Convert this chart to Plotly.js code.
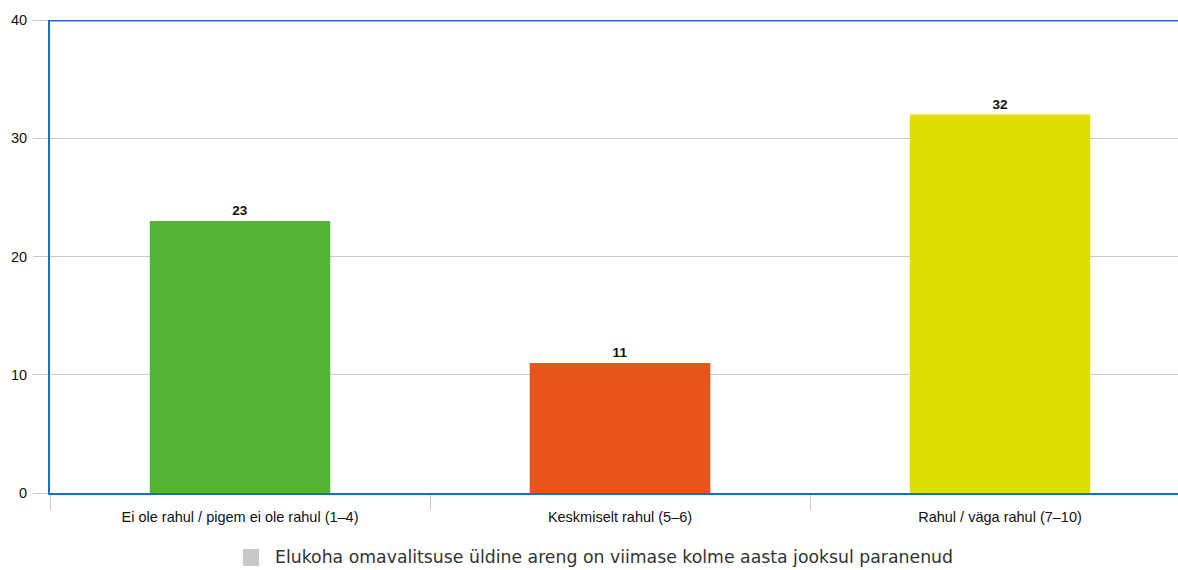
<!DOCTYPE html>
<html>
<head>
<meta charset="utf-8">
<script src="https://cdn.plot.ly/plotly-3.0.1.min.js"></script>
<style>
html,body{margin:0;padding:0;overflow:hidden;background:#fff;}
#chart{width:1200px;height:570px;}
</style>
</head>
<body>
<div id="chart"></div>
<script>
const categories = ["Ei ole rahul / pigem ei ole rahul (1\u20134)", "Keskmiselt rahul (5\u20136)", "Rahul / v\u00e4ga rahul (7\u201310)"];
const values = [23, 11, 32];
const barColors = ["#52b335", "#e8541c", "#dede00"];
const legendName = "Elukoha omavalitsuse \u00fcldine areng on viimase kolme aasta jooksul paranenud";
const yTicks = [0, 10, 20, 30, 40];

const traces = [
  {
    type: "bar",
    x: categories,
    y: values,
    marker: {color: barColors},
    width: 0.475,
    text: values.map(String),
    textposition: "outside",
    textfont: {family: "Liberation Sans, Arial, sans-serif", size: 13.5, color: "#111"},
    texttemplate: "<b>%{text}</b>",
    cliponaxis: false,
    showlegend: false,
    name: legendName,
    hoverinfo: "x+y"
  }
];

const layout = {
  width: 1200,
  height: 570,
  margin: {l: 50, r: 10, t: 20, b: 77},
  paper_bgcolor: "#fff",
  plot_bgcolor: "#fff",
  font: {family: "Liberation Sans, Arial, sans-serif", size: 12, color: "#222"},
  xaxis: {
    type: "category",
    tickson: "boundaries",
    ticks: "outside",
    ticklen: 15,
    tickcolor: "#c8c8c8",
    tickwidth: 1,
    showline: true,
    linecolor: "#1a6fc4",
    linewidth: 2,
    showgrid: false,
    tickfont: {size: 14.5, color: "#111"},
    ticklabelstandoff: 10,
    range: [-0.5, 2.5]
  },
  yaxis: {
    range: [0, 40],
    tickvals: yTicks,
    ticks: "outside",
    ticklen: 15,
    tickcolor: "#c8c8c8",
    showline: true,
    linecolor: "#1a6fc4",
    linewidth: 2,
    showgrid: true,
    gridcolor: "#c8c8c8",
    gridwidth: 1,
    zeroline: false,
    tickfont: {size: 14.5, color: "#111"},
    ticklabelstandoff: 3
  },
  shapes: [
    {type: "line", xref: "paper", yref: "y", x0: 0, x1: 1, y0: 40, y1: 40,
     line: {color: "#1a6fc4", width: 3}},
    {type: "rect", xref: "paper", yref: "paper",
     x0: (243 - 50) / 1140, x1: (259 - 50) / 1140,
     y0: (493 - 549) / 473, y1: (493 - 566) / 473,
     fillcolor: "#c8c8c8", line: {width: 0}}
  ],
  annotations: [
    {xref: "paper", yref: "paper", x: (273 - 50) / 1140, y: (493 - 557.5) / 473,
     xanchor: "left", yanchor: "middle", showarrow: false,
     text: legendName,
     font: {family: "DejaVu Sans, sans-serif", size: 17.3, color: "#333"}}
  ],
  showlegend: false
};

Plotly.newPlot("chart", traces, layout, {displayModeBar: false, staticPlot: true});
</script>
</body>
</html>
